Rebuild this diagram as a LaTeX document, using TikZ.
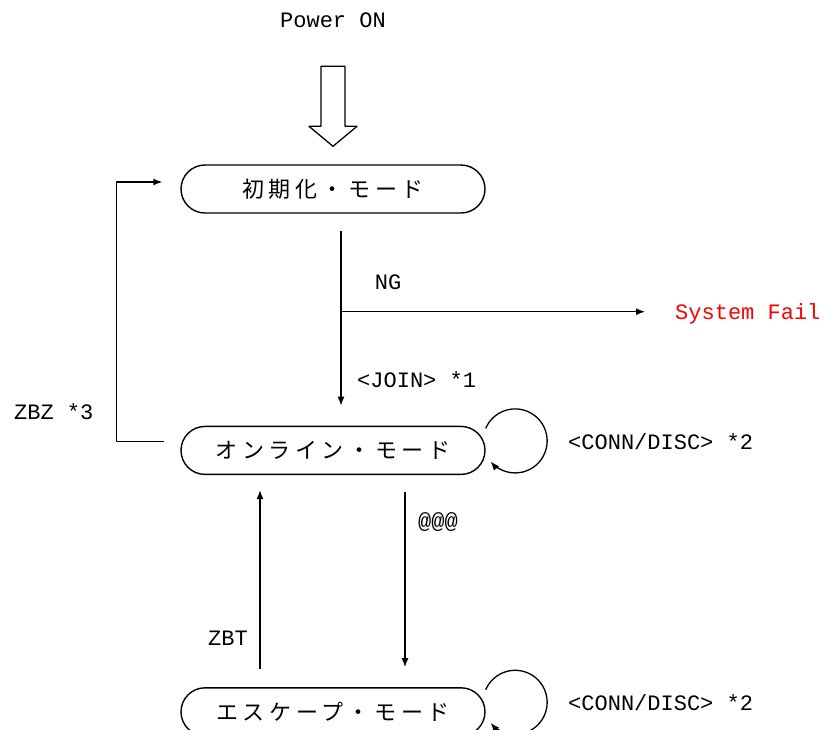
\documentclass[tikz,border=0pt]{standalone}
\usepackage{fontspec}
\setmainfont{Liberation Mono}
\newfontfamily\jpfont[LetterSpace=21]{Noto Sans CJK JP}
\usepackage{xcolor}
\usepackage{tikz}
\usetikzlibrary{arrows.meta,positioning,calc}
\tikzset{
  state diagram/.style={
    x=1pt, y=1pt,
    font=\fontsize{22}{26}\selectfont,
    >={Latex[length=9pt,width=7pt]},
    line join=round
  },
  modebox/.style={
    draw,
    line width=1.4pt,
    rounded corners=24pt,
    minimum width=304pt,
    minimum height=48pt,
    inner sep=0pt,
    font=\fontsize{22}{26}\selectfont\jpfont
  },
  flowarrow/.style={
    ->,
    line width=1.3pt
  },
  hollowarrow/.style={
    draw,
    line width=1.3pt,
    fill=white
  },
  lbl/.style={
    inner sep=0pt
  }
}

\begin{document}
\begin{tikzpicture}[state diagram, node distance=212pt]
\useasboundingbox (0,0) rectangle (822,-729);
\node[modebox] (init) at (333,-189) {初期化・モード};
\node[modebox, below=of init] (online) {オンライン・モード};
\node[modebox, below=of online] (escape) {エスケープ・モード};
\node[lbl] (power) at (333,-20) {Power ON};
\node[lbl, text=red, anchor=west] (fail) at (675,-314) {System Fail};
\node[lbl] (ng) at (388,-282) {NG};
\node[lbl, anchor=west] (join) at (357,-380) {<JOIN> *1};
\node[lbl, anchor=west] (zbz) at (14,-412) {ZBZ *3};
\node[lbl, anchor=west] (cd1) at (568,-442) {<CONN/DISC> *2};
\node[lbl, anchor=west] (cd2) at (568,-703) {<CONN/DISC> *2};
\node[lbl, anchor=west] (esc) at (418,-522) {@@@};
\node[lbl, anchor=east] (zbt) at (248,-638) {ZBT};

\coordinate (jtop) at ($(init.south)+(8,-17)$);
\coordinate (jbot) at ($(online.north)+(8,20)$);
\coordinate (fork) at ($(jtop)+(0,-81)$);

% power on
\draw[hollowarrow] ([yshift=18pt]init.north) -- ++(24,20) -- ++(-12,0) -- ++(0,60)
  -- ++(-24,0) -- ++(0,-60) -- ++(-12,0) -- cycle;

\draw[flowarrow] (jtop) -- (jbot);
\draw[flowarrow] (fork) -- ++(304,0);
\draw[flowarrow] ([shift={(-16,9)}]online.west) -- ++(-48,0) |- ([shift={(-18,7)}]init.west);
\draw[flowarrow] ([shift={(72,-17)}]online.south) -- ([shift={(72,20)}]escape.north);
\draw[flowarrow] ([shift={(-73,18)}]escape.north) -- ([shift={(-73,-15)}]online.south);

% self loops
\draw[flowarrow] ([yshift=22pt]online.east) arc[start angle=157, end angle=-140, radius=32pt];
\draw[flowarrow] ([yshift=22pt]escape.east) arc[start angle=157, end angle=-140, radius=32pt];
\end{tikzpicture}
\end{document}
